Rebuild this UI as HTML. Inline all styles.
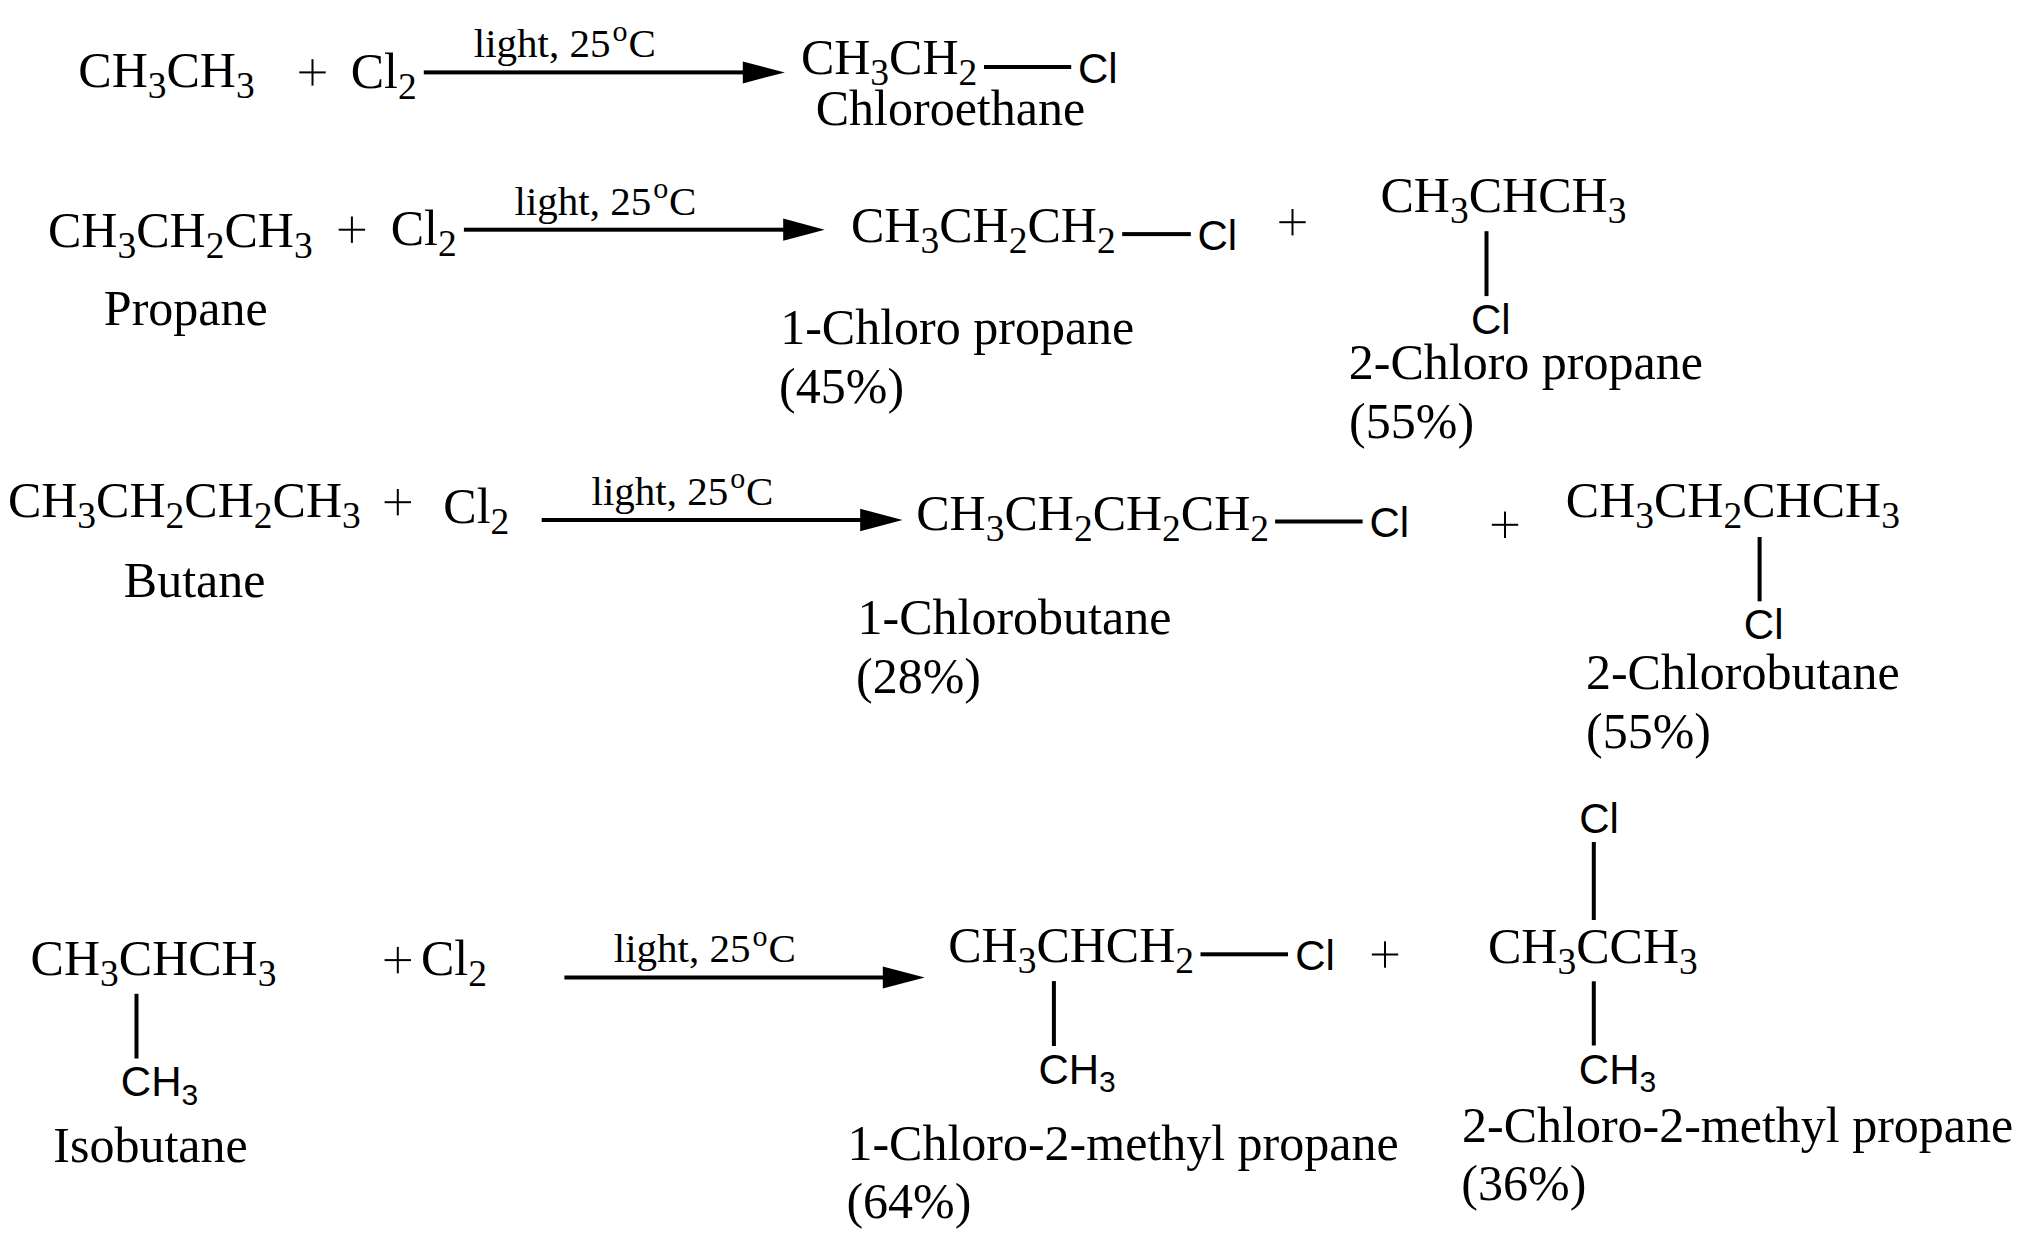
<!DOCTYPE html>
<html><head><meta charset="utf-8"><style>html,body{margin:0;padding:0;background:#fff;width:2023px;height:1240px;overflow:hidden}svg{display:block}</style></head><body>
<svg width="2023" height="1240" viewBox="0 0 2023 1240" fill="#000">
<rect width="2023" height="1240" fill="#fff"/>
<text x="78.30" y="87.00" font-family='"Liberation Serif", serif' font-size="50"><tspan>CH</tspan><tspan font-size="37.5" dy="11">3</tspan><tspan dy="-11">CH</tspan><tspan font-size="37.5" dy="11">3</tspan></text>
<text x="350.70" y="87.70" font-family='"Liberation Serif", serif' font-size="50"><tspan>Cl</tspan><tspan font-size="37.5" dy="11">2</tspan></text>
<text x="473.80" y="57.00" font-family='"Liberation Serif", serif' font-size="41">light, 25<tspan font-size="30" dx="2" dy="-16.5">o</tspan><tspan dx="0.9" dy="16.5">C</tspan></text>
<text x="800.90" y="74.30" font-family='"Liberation Serif", serif' font-size="50"><tspan>CH</tspan><tspan font-size="37.5" dy="11">3</tspan><tspan dy="-11">CH</tspan><tspan font-size="37.5" dy="11">2</tspan></text>
<text x="1077.90" y="82.70" font-family='"Liberation Sans", sans-serif' font-size="42"><tspan>Cl</tspan></text>
<text x="815.75" y="124.50" font-family='"Liberation Serif", serif' font-size="50">Chloroethane</text>
<text x="48.00" y="247.20" font-family='"Liberation Serif", serif' font-size="50"><tspan>CH</tspan><tspan font-size="37.5" dy="11">3</tspan><tspan dy="-11">CH</tspan><tspan font-size="37.5" dy="11">2</tspan><tspan dy="-11">CH</tspan><tspan font-size="37.5" dy="11">3</tspan></text>
<text x="390.70" y="245.30" font-family='"Liberation Serif", serif' font-size="50"><tspan>Cl</tspan><tspan font-size="37.5" dy="11">2</tspan></text>
<text x="514.50" y="214.90" font-family='"Liberation Serif", serif' font-size="41">light, 25<tspan font-size="30" dx="2" dy="-16.5">o</tspan><tspan dx="0.9" dy="16.5">C</tspan></text>
<text x="851.00" y="242.40" font-family='"Liberation Serif", serif' font-size="50"><tspan>CH</tspan><tspan font-size="37.5" dy="11">3</tspan><tspan dy="-11">CH</tspan><tspan font-size="37.5" dy="11">2</tspan><tspan dy="-11">CH</tspan><tspan font-size="37.5" dy="11">2</tspan></text>
<text x="1197.40" y="250.10" font-family='"Liberation Sans", sans-serif' font-size="42"><tspan>Cl</tspan></text>
<text x="1380.50" y="212.20" font-family='"Liberation Serif", serif' font-size="50"><tspan>CH</tspan><tspan font-size="37.5" dy="11">3</tspan><tspan dy="-11">CHCH</tspan><tspan font-size="37.5" dy="11">3</tspan></text>
<text x="1471.00" y="333.50" font-family='"Liberation Sans", sans-serif' font-size="42"><tspan>Cl</tspan></text>
<text x="103.85" y="324.60" font-family='"Liberation Serif", serif' font-size="50">Propane</text>
<text x="780.20" y="344.40" font-family='"Liberation Serif", serif' font-size="50">1-Chloro propane</text>
<text x="779.10" y="403.10" font-family='"Liberation Serif", serif' font-size="50">(45%)</text>
<text x="1348.75" y="379.40" font-family='"Liberation Serif", serif' font-size="50">2-Chloro propane</text>
<text x="1349.10" y="437.80" font-family='"Liberation Serif", serif' font-size="50">(55%)</text>
<text x="7.90" y="516.90" font-family='"Liberation Serif", serif' font-size="50"><tspan>CH</tspan><tspan font-size="37.5" dy="11">3</tspan><tspan dy="-11">CH</tspan><tspan font-size="37.5" dy="11">2</tspan><tspan dy="-11">CH</tspan><tspan font-size="37.5" dy="11">2</tspan><tspan dy="-11">CH</tspan><tspan font-size="37.5" dy="11">3</tspan></text>
<text x="443.30" y="522.70" font-family='"Liberation Serif", serif' font-size="50"><tspan>Cl</tspan><tspan font-size="37.5" dy="11">2</tspan></text>
<text x="591.50" y="504.90" font-family='"Liberation Serif", serif' font-size="41">light, 25<tspan font-size="30" dx="2" dy="-16.5">o</tspan><tspan dx="0.9" dy="16.5">C</tspan></text>
<text x="916.20" y="529.60" font-family='"Liberation Serif", serif' font-size="50"><tspan>CH</tspan><tspan font-size="37.5" dy="11">3</tspan><tspan dy="-11">CH</tspan><tspan font-size="37.5" dy="11">2</tspan><tspan dy="-11">CH</tspan><tspan font-size="37.5" dy="11">2</tspan><tspan dy="-11">CH</tspan><tspan font-size="37.5" dy="11">2</tspan></text>
<text x="1369.50" y="537.40" font-family='"Liberation Sans", sans-serif' font-size="42"><tspan>Cl</tspan></text>
<text x="1565.80" y="517.20" font-family='"Liberation Serif", serif' font-size="50"><tspan>CH</tspan><tspan font-size="37.5" dy="11">3</tspan><tspan dy="-11">CH</tspan><tspan font-size="37.5" dy="11">2</tspan><tspan dy="-11">CHCH</tspan><tspan font-size="37.5" dy="11">3</tspan></text>
<text x="1743.80" y="638.80" font-family='"Liberation Sans", sans-serif' font-size="42"><tspan>Cl</tspan></text>
<text x="123.80" y="596.80" font-family='"Liberation Serif", serif' font-size="50">Butane</text>
<text x="857.55" y="634.40" font-family='"Liberation Serif", serif' font-size="50">1-Chlorobutane</text>
<text x="856.00" y="693.10" font-family='"Liberation Serif", serif' font-size="50">(28%)</text>
<text x="1585.90" y="689.40" font-family='"Liberation Serif", serif' font-size="50">2-Chlorobutane</text>
<text x="1586.00" y="747.80" font-family='"Liberation Serif", serif' font-size="50">(55%)</text>
<text x="30.60" y="974.90" font-family='"Liberation Serif", serif' font-size="50"><tspan>CH</tspan><tspan font-size="37.5" dy="11">3</tspan><tspan dy="-11">CHCH</tspan><tspan font-size="37.5" dy="11">3</tspan></text>
<text x="120.80" y="1096.20" font-family='"Liberation Sans", sans-serif' font-size="42"><tspan>CH</tspan><tspan font-size="30" dy="8.5">3</tspan></text>
<text x="53.35" y="1162.10" font-family='"Liberation Serif", serif' font-size="50">Isobutane</text>
<text x="421.00" y="974.90" font-family='"Liberation Serif", serif' font-size="50"><tspan>Cl</tspan><tspan font-size="37.5" dy="11">2</tspan></text>
<text x="613.80" y="962.00" font-family='"Liberation Serif", serif' font-size="41">light, 25<tspan font-size="30" dx="2" dy="-16.5">o</tspan><tspan dx="0.9" dy="16.5">C</tspan></text>
<text x="948.20" y="962.10" font-family='"Liberation Serif", serif' font-size="50"><tspan>CH</tspan><tspan font-size="37.5" dy="11">3</tspan><tspan dy="-11">CHCH</tspan><tspan font-size="37.5" dy="11">2</tspan></text>
<text x="1038.40" y="1083.70" font-family='"Liberation Sans", sans-serif' font-size="42"><tspan>CH</tspan><tspan font-size="30" dy="8.5">3</tspan></text>
<text x="1295.20" y="970.10" font-family='"Liberation Sans", sans-serif' font-size="42"><tspan>Cl</tspan></text>
<text x="1488.00" y="962.50" font-family='"Liberation Serif", serif' font-size="50"><tspan>CH</tspan><tspan font-size="37.5" dy="11">3</tspan><tspan dy="-11">CCH</tspan><tspan font-size="37.5" dy="11">3</tspan></text>
<text x="1579.20" y="833.00" font-family='"Liberation Sans", sans-serif' font-size="42"><tspan>Cl</tspan></text>
<text x="1578.80" y="1083.80" font-family='"Liberation Sans", sans-serif' font-size="42"><tspan>CH</tspan><tspan font-size="30" dy="8.5">3</tspan></text>
<text x="847.40" y="1159.80" font-family='"Liberation Serif", serif' font-size="50">1-Chloro-2-methyl propane</text>
<text x="846.40" y="1218.20" font-family='"Liberation Serif", serif' font-size="50">(64%)</text>
<text x="1462.00" y="1142.40" font-family='"Liberation Serif", serif' font-size="50">2-Chloro-2-methyl propane</text>
<text x="1461.35" y="1199.50" font-family='"Liberation Serif", serif' font-size="50">(36%)</text>
<rect x="423.80" y="70.40" width="320.00" height="4"/>
<polygon points="742.80,61.40 784.80,72.40 742.80,83.40"/>
<rect x="463.90" y="227.70" width="320.30" height="4"/>
<polygon points="783.20,218.60 824.70,229.70 783.20,240.80"/>
<rect x="541.70" y="518.00" width="319.50" height="4"/>
<polygon points="860.20,508.65 902.50,520.00 860.20,531.35"/>
<rect x="564.40" y="975.50" width="319.40" height="4"/>
<polygon points="882.80,966.40 924.70,977.50 882.80,988.60"/>
<rect x="984.00" y="65.00" width="87.20" height="4"/>
<rect x="1122.20" y="232.10" width="68.60" height="4"/>
<rect x="1275.10" y="519.50" width="87.50" height="4"/>
<rect x="1200.50" y="952.30" width="87.50" height="4"/>
<rect x="1484.50" y="231.20" width="4" height="64.90"/>
<rect x="1757.60" y="537.00" width="4" height="64.30"/>
<rect x="134.50" y="993.80" width="4" height="64.70"/>
<rect x="1051.90" y="981.10" width="4" height="64.90"/>
<rect x="1591.80" y="842.00" width="4" height="78.00"/>
<rect x="1591.80" y="981.30" width="4" height="64.20"/>
<rect x="299.30" y="71.40" width="26.40" height="2.0"/>
<rect x="311.50" y="59.20" width="2.0" height="26.40"/>
<rect x="338.70" y="228.70" width="26.40" height="2.0"/>
<rect x="350.90" y="216.50" width="2.0" height="26.40"/>
<rect x="1279.30" y="221.20" width="26.40" height="2.0"/>
<rect x="1291.50" y="209.00" width="2.0" height="26.40"/>
<rect x="384.60" y="501.20" width="26.40" height="2.0"/>
<rect x="396.80" y="489.00" width="2.0" height="26.40"/>
<rect x="1491.80" y="523.80" width="26.40" height="2.0"/>
<rect x="1504.00" y="511.60" width="2.0" height="26.40"/>
<rect x="384.60" y="959.10" width="26.40" height="2.0"/>
<rect x="396.80" y="946.90" width="2.0" height="26.40"/>
<rect x="1371.80" y="953.50" width="26.40" height="2.0"/>
<rect x="1384.00" y="941.30" width="2.0" height="26.40"/>
</svg>
</body></html>
